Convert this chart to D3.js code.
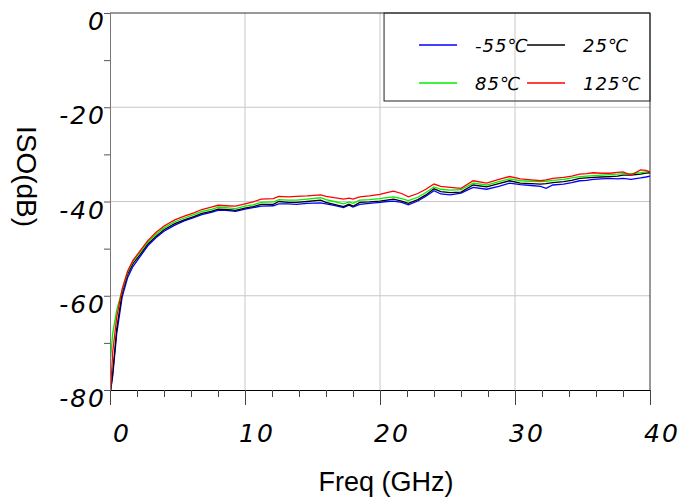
<!DOCTYPE html>
<html>
<head>
<meta charset="utf-8">
<script src="https://cdn.jsdelivr.net/npm/d3@7"></script>
<style>
  body { margin: 0; background: #fff; }
  #chart { width: 681px; height: 498px; }
</style>
</head>
<body>
<div id="chart"></div>
<script>
//Frequency points in GHz
const freqGHz = [0.05, 0.2, 0.5, 0.9, 1.3, 1.7, 2.2, 2.8, 3.4, 4.0,
    4.8, 5.5, 6.2, 6.8, 7.5, 8.0, 8.6, 9.3, 10.0, 10.6,
    11.2, 12.1, 12.5, 13.2, 13.8, 14.6, 15.6, 16.0, 16.6, 17.3,
    17.7, 18.0, 18.5, 19.2, 20.0, 20.5, 21.0, 21.6, 22.1, 22.8,
    23.4, 24.0, 24.5, 25.2, 26.0, 26.9, 27.9, 28.8, 29.6, 30.4,
    31.2, 31.9, 32.3, 32.8, 33.6, 34.2, 34.8, 35.3, 35.8, 36.4,
    37.0, 37.6, 38.0, 38.6, 39.3, 39.7, 40.0];

const isoM55 = [-80, -77, -68, -60.3, -56.2, -53.8, -51.8, -49.4, -47.7, -46.3,
    -45.0, -44.1, -43.4, -42.8, -42.3, -41.9, -41.9, -42.1, -41.6, -41.3,
    -41.0, -40.9, -40.5, -40.5, -40.6, -40.4, -40.3, -40.5, -40.8, -41.3,
    -40.8, -41.2, -40.6, -40.4, -40.2, -40.0, -39.9, -40.2, -40.7, -39.9,
    -38.9, -37.7, -38.4, -38.6, -38.2, -37.0, -37.4, -36.8, -36.1, -36.4,
    -36.6, -36.8, -37.2, -36.5, -36.3, -36.0, -35.6, -35.5, -35.3, -35.2,
    -35.1, -35.2, -35.1, -35.3, -35.0, -34.8, -34.6];

const iso25 = [-80, -76.5, -67, -59.4, -55.5, -53.2, -51.4, -49.0, -47.4, -46.0,
    -44.7, -43.9, -43.2, -42.5, -42.1, -41.6, -41.7, -41.9, -41.4, -41.1,
    -40.6, -40.6, -40.0, -40.2, -40.2, -40.0, -39.7, -40.2, -40.6, -41.1,
    -40.6, -41.0, -40.2, -40.1, -39.9, -39.7, -39.5, -39.9, -40.4, -39.6,
    -38.6, -37.3, -37.9, -38.1, -38.0, -36.5, -36.9, -36.2, -35.6, -36.1,
    -36.2, -36.3, -36.2, -36.0, -35.8, -35.5, -35.1, -35.0, -34.9, -34.8,
    -34.7, -34.6, -34.4, -34.4, -34.2, -34.0, -33.9];

const iso85 = [-73, -68, -63, -58.8, -55.0, -52.7, -50.9, -48.6, -47.0, -45.6,
    -44.3, -43.5, -42.8, -42.1, -41.7, -41.2, -41.3, -41.5, -41.0, -40.7,
    -40.2, -40.1, -39.6, -39.7, -39.7, -39.5, -39.2, -39.6, -40.0, -40.5,
    -40.1, -40.4, -39.7, -39.6, -39.4, -39.2, -39.0, -39.4, -39.8, -39.1,
    -38.1, -36.9, -37.4, -37.6, -37.5, -36.1, -36.5, -35.8, -35.2, -35.6,
    -35.7, -35.8, -35.7, -35.5, -35.3, -35.0, -34.7, -34.6, -34.5, -34.4,
    -34.3, -34.2, -34.1, -34.1, -33.9, -33.7, -33.6];

const iso125 = [-80, -72, -64.5, -58.6, -54.8, -52.5, -50.6, -48.3, -46.6, -45.2,
    -43.9, -43.1, -42.4, -41.7, -41.2, -40.8, -40.9, -41.0, -40.5, -40.1,
    -39.5, -39.4, -38.9, -39.0, -38.9, -38.8, -38.6, -38.9, -39.2, -39.5,
    -39.3, -39.5, -39.0, -38.8, -38.5, -38.1, -37.8, -38.3, -39.0, -38.3,
    -37.4, -36.3, -36.8, -37.0, -37.2, -35.6, -36.1, -35.3, -34.7, -35.2,
    -35.4, -35.6, -35.4, -35.1, -34.9, -34.6, -34.2, -34.1, -33.9, -34.0,
    -34.0, -33.8, -33.7, -34.4, -33.3, -33.4, -33.7];

const seriesNames = ["-55℃", "25℃", "85℃", "125℃"];
const seriesColors = ["#0000ff", "#000000", "#00ee00", "#ff0000"];
const seriesValues = [isoM55, iso25, iso85, iso125];

const xTicks = [0, 10, 20, 30, 40];
const yTicks = [0, -20, -40, -60, -80];

const margin = {left: 110, right: 31, top: 13, bottom: 108};
const width = 681 - margin.left - margin.right;
const height = 498 - margin.top - margin.bottom;
const tickFont = "'DejaVu Sans', sans-serif";
const titleFont = "'Liberation Sans', Arial, sans-serif";

var svg = d3.select("#chart")
    .append("svg")
        .attr("width", 681)
        .attr("height", 498)
    .append("g")
        .attr("transform", `translate(${margin.left}, ${margin.top})`);

var x = d3.scaleLinear().domain([0, 40]).range([0, width]);
var y = d3.scaleLinear().domain([-80, 0]).range([height, 0]);

//Grid
svg.append("g")
    .selectAll("line")
    .data(xTicks.slice(1, -1))
    .enter().append("line")
        .attr("x1", d => x(d)).attr("x2", d => x(d))
        .attr("y1", 0).attr("y2", height)
        .attr("stroke", "#c8c8c8");
svg.append("g")
    .selectAll("line")
    .data(yTicks.slice(1, -1))
    .enter().append("line")
        .attr("x1", 0).attr("x2", width)
        .attr("y1", d => y(d)).attr("y2", d => y(d))
        .attr("stroke", "#c8c8c8");

//Frame on top and right
svg.append("line").attr("x1", 0).attr("x2", width).attr("y1", 0).attr("y2", 0)
    .attr("stroke", "#333");
svg.append("line").attr("x1", width).attr("x2", width).attr("y1", 0).attr("y2", height)
    .attr("stroke", "#333");

//Curves
var line = d3.line()
    .x((d, i) => x(freqGHz[i]))
    .y(d => y(d));
svg.append("g")
    .selectAll("path")
    .data(seriesValues)
    .enter().append("path")
        .attr("d", d => line(d))
        .attr("fill", "none")
        .attr("stroke", (d, i) => seriesColors[i])
        .attr("stroke-width", 1.3);

//X axis: minor ticks every 2 GHz, major every 10 GHz
var xAxis = svg.append("g").attr("transform", `translate(0, ${height})`);
xAxis.call(d3.axisBottom(x).tickValues(d3.range(0, 41, 2)).tickSize(7).tickFormat(""));
xAxis.call(g => g.selectAll(".tick").filter(d => d % 10 === 0).select("line").attr("y2", 15));
xAxis.select(".domain").attr("stroke", "#000");
xAxis.selectAll(".tick line").attr("stroke", "#444");
svg.append("g")
    .selectAll("text")
    .data(xTicks)
    .enter().append("text")
        .attr("x", d => x(d) + 12)
        .attr("y", height + 52)
        .attr("text-anchor", "middle")
        .attr("font-family", tickFont)
        .attr("font-style", "italic")
        .attr("font-size", 25)
        .attr("letter-spacing", 2)
        .text(d => d);

//Y axis: minor ticks every 10 dB
var yAxis = svg.append("g");
yAxis.call(d3.axisLeft(y).tickValues(d3.range(-80, 1, 10)).tickSize(6).tickFormat(""));
yAxis.select(".domain").attr("stroke", "#777");
yAxis.selectAll(".tick line").attr("stroke", "#555");
svg.append("g")
    .selectAll("text")
    .data(yTicks)
    .enter().append("text")
        .attr("x", -4)
        .attr("y", d => y(d) + 17)
        .attr("text-anchor", "end")
        .attr("font-family", tickFont)
        .attr("font-style", "italic")
        .attr("font-size", 25)
        .attr("letter-spacing", 2)
        .text(d => d);

//Axis titles
svg.append("text")
    .attr("x", width / 2 + 6)
    .attr("y", height + 101)
    .attr("text-anchor", "middle")
    .attr("font-family", titleFont)
    .attr("font-size", 27)
    .text("Freq (GHz)");
svg.append("text")
    .attr("transform", `translate(${-93}, ${163.5}) rotate(90)`)
    .attr("text-anchor", "middle")
    .attr("font-family", titleFont)
    .attr("font-size", 28)
    .text("ISO(dB)");

//Legend, transparent box so the grid shows through
var legend = svg.append("g").attr("transform", `translate(${x(20.3)}, 0)`);
legend.append("rect")
    .attr("width", width - x(20.3))
    .attr("height", 88)
    .attr("fill", "none")
    .attr("stroke", "#222");
var legendPos = [[35, 32], [143, 32], [35, 70], [143, 70]];
seriesNames.forEach(function(name, i) {
    var g = legend.append("g").attr("transform", `translate(${legendPos[i][0]}, ${legendPos[i][1]})`);
    g.append("line").attr("x1", 0).attr("x2", 38).attr("y1", 0).attr("y2", 0)
        .attr("stroke", seriesColors[i]).attr("stroke-width", 1.5);
    g.append("text")
        .attr("x", 56).attr("y", 7)
        .attr("font-family", tickFont)
        .attr("font-style", "italic")
        .attr("font-size", 18)
        .attr("letter-spacing", 1)
        .text(name);
});
</script>
</body>
</html>
